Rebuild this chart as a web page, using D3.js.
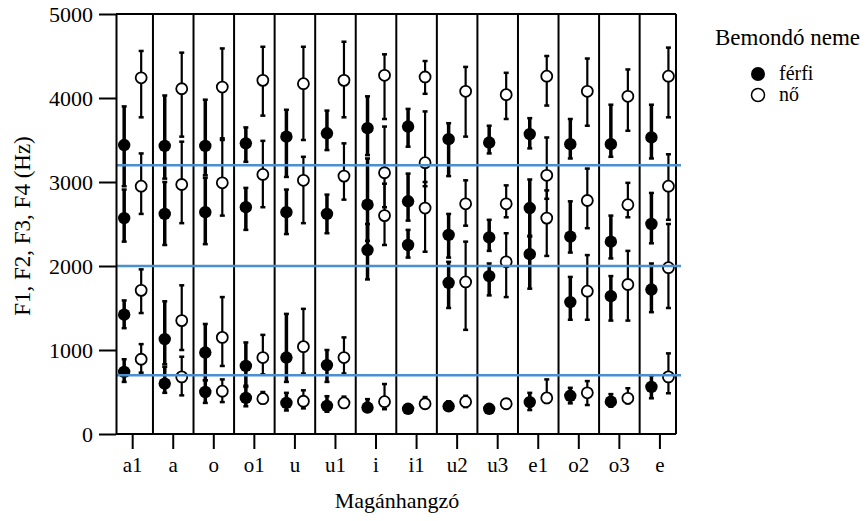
<!DOCTYPE html>
<html>
<head>
<meta charset="utf-8">
<script src="https://cdn.jsdelivr.net/npm/d3@7"></script>
<style>
  body { margin: 0; background: #fff; }
  text { font-family: "Liberation Serif", "Times New Roman", serif; fill: #000; }
</style>
</head>
<body>
<div id="chart"></div>
<script>
// vowels on the x axis
var vowels = ["a1", "a", "o", "o1", "u", "u1", "i", "i1", "u2", "u3", "e1", "o2", "o3", "e"];
var yTicks = [0, 1000, 2000, 3000, 4000, 5000];
var refLines = [700, 2000, 3200];

// each row: F1, F2, F3, F4 (Hz) for one vowel
var maleMean = [
  [740, 1420, 2570, 3440], [600, 1130, 2620, 3430], [500, 970, 2640, 3430], [430, 810, 2700, 3460],
  [370, 910, 2640, 3540], [335, 820, 2620, 3580], [315, 2190, 2730, 3640], [300, 2250, 2770, 3660],
  [330, 1800, 2370, 3510], [300, 1880, 2340, 3470], [380, 2140, 2690, 3570], [455, 1570, 2350, 3450],
  [385, 1640, 2290, 3450], [560, 1720, 2500, 3530]
];
var maleLow = [
  [620, 1260, 2290, 2950], [490, 830, 2250, 3040], [370, 640, 2260, 3080], [330, 575, 2430, 3240],
  [280, 620, 2380, 3060], [265, 620, 2390, 3380], [265, 1840, 2300, 3320], [280, 2100, 2540, 3420],
  [280, 1500, 2100, 3070], [280, 1650, 2180, 3340], [285, 1730, 2360, 3400], [365, 1360, 2160, 3280],
  [325, 1350, 2090, 3300], [425, 1450, 2270, 3280]
];
var maleHigh = [
  [890, 1590, 2910, 3900], [800, 1580, 3000, 4030], [640, 1310, 3050, 3980], [560, 1090, 2930, 3650],
  [490, 1430, 2910, 3860], [450, 1000, 2850, 3850], [415, 2500, 3280, 4020], [320, 2430, 3100, 3870],
  [390, 2050, 2620, 3700], [320, 2030, 2550, 3670], [490, 2350, 3030, 3760], [550, 1870, 2770, 3750],
  [475, 1880, 2600, 3920], [700, 2030, 2870, 3920]
];
var femaleMean = [
  [890, 1710, 2950, 4240], [680, 1350, 2970, 4110], [510, 1150, 2990, 4130], [420, 910, 3090, 4210],
  [390, 1040, 3020, 4170], [370, 910, 3070, 4210], [385, 2600, 3110, 4270], [360, 2690, 3230, 4250],
  [385, 1810, 2740, 4080], [360, 2050, 2740, 4040], [430, 2570, 3080, 4260], [490, 1700, 2780, 4080],
  [425, 1780, 2730, 4020], [680, 1980, 2950, 4260]
];
var femaleLow = [
  [730, 1440, 2620, 3770], [460, 1000, 2510, 3540], [380, 810, 2600, 3520], [370, 710, 2700, 3790],
  [305, 720, 2510, 3500], [320, 720, 2790, 3770], [295, 2250, 2700, 3750], [330, 2170, 2950, 4050],
  [320, 1240, 2480, 3540], [330, 1630, 2580, 3750], [370, 2120, 2800, 3910], [345, 1360, 2450, 3670],
  [365, 1350, 2580, 3610], [485, 1500, 2550, 3770]
];
var femaleHigh = [
  [1070, 1960, 3340, 4560], [920, 1770, 3480, 4540], [650, 1630, 3500, 4590], [500, 1180, 3490, 4610],
  [520, 1490, 3300, 4610], [445, 1150, 3460, 4670], [595, 2980, 3660, 4520], [440, 3000, 3840, 4440],
  [455, 2290, 3020, 4370], [390, 2390, 2960, 4300], [650, 2900, 3530, 4500], [630, 2130, 3160, 4470],
  [545, 2180, 2990, 4340], [960, 2500, 3330, 4600]
];

var w = 868, h = 521;
var plotL = 116, plotR = 676, plotT = 14, plotB = 434;

var svg = d3.select("#chart").append("svg")
  .attr("width", w).attr("height", h);

var x = d3.scaleBand().domain(vowels).range([112.4, 680.2]).padding(0);
var y = d3.scaleLinear().domain([0, 5000]).range([plotB, plotT]);
var off = 8.5;

// flatten into marks
var marks = [];
vowels.forEach(function(v, i) {
  for (var f = 0; f < 4; f++) {
    marks.push({ v: v, sex: "m", mean: maleMean[i][f], lo: maleLow[i][f], hi: maleHigh[i][f] });
    marks.push({ v: v, sex: "f", mean: femaleMean[i][f], lo: femaleLow[i][f], hi: femaleHigh[i][f] });
  }
});
function cx(d) { return x(d.v) + x.bandwidth() / 2 + (d.sex == "m" ? -off : off); }

// frame + dividers
svg.append("line").attr("x1", plotL).attr("x2", plotR).attr("y1", plotT).attr("y2", plotT)
  .attr("stroke", "#000").attr("stroke-width", 2);
svg.append("line").attr("x1", plotR).attr("x2", plotR).attr("y1", plotT).attr("y2", plotB)
  .attr("stroke", "#000").attr("stroke-width", 2);
svg.selectAll(".div").data(vowels.slice(1)).enter().append("line")
  .attr("x1", function(d) { return x(d); }).attr("x2", function(d) { return x(d); })
  .attr("y1", plotT).attr("y2", plotB)
  .attr("stroke", "#000").attr("stroke-width", 2);

// error bars
var g = svg.append("g");
g.selectAll(".bar").data(marks).enter().append("line")
  .attr("x1", cx).attr("x2", cx)
  .attr("y1", function(d) { return y(d.lo); })
  .attr("y2", function(d) { return y(d.hi); })
  .attr("stroke", "#000")
  .attr("stroke-width", function(d) { return d.sex == "m" ? 3.5 : 2.2; });
["lo", "hi"].forEach(function(k) {
  g.selectAll(".cap-" + k).data(marks).enter().append("line")
    .attr("x1", function(d) { return cx(d) - 2.5; })
    .attr("x2", function(d) { return cx(d) + 2.5; })
    .attr("y1", function(d) { return y(d[k]); })
    .attr("y2", function(d) { return y(d[k]); })
    .attr("stroke", "#000").attr("stroke-width", 2.5);
});

// points
g.selectAll(".pt").data(marks).enter().append("circle")
  .attr("cx", cx)
  .attr("cy", function(d) { return y(d.mean); })
  .attr("r", function(d) { return d.sex == "m" ? 6.2 : 5.5; })
  .attr("fill", function(d) { return d.sex == "m" ? "#000" : "#fff"; })
  .attr("stroke", "#000")
  .attr("stroke-width", function(d) { return d.sex == "m" ? 0 : 1.8; });

// blue reference lines
svg.selectAll(".ref").data(refLines).enter().append("line")
  .attr("x1", plotL).attr("x2", 681)
  .attr("y1", function(d) { return y(d); }).attr("y2", function(d) { return y(d); })
  .attr("stroke", "#4a8fd0").attr("stroke-width", 2.6);

// axes
var yAxis = svg.append("g").attr("transform", "translate(" + plotL + ",0)")
  .call(d3.axisLeft(y).tickValues(yTicks).tickFormat(d3.format("d"))
    .tickSize(17).tickPadding(6).tickSizeOuter(0));
yAxis.select(".domain").attr("stroke-width", 2);
yAxis.selectAll(".tick line").attr("stroke-width", 2);
yAxis.selectAll("text").style("font-size", "22px");

var xAxis = svg.append("g").attr("transform", "translate(0," + plotB + ")")
  .call(d3.axisBottom(x).tickSize(15).tickPadding(8).tickSizeOuter(0));
xAxis.select(".domain").attr("d", "M" + plotL + ",0H" + plotR).attr("stroke-width", 2);
xAxis.selectAll(".tick line").attr("stroke-width", 2);
xAxis.selectAll("text").style("font-size", "21px");

// titles
svg.append("text").attr("x", 397).attr("y", 508).attr("text-anchor", "middle")
  .style("font-size", "22px").text("Magánhangzó");
svg.append("text").attr("transform", "translate(30,226) rotate(-90)").attr("text-anchor", "middle")
  .style("font-size", "23px").text("F1, F2, F3, F4 (Hz)");

// legend
svg.append("text").attr("x", 715).attr("y", 45).style("font-size", "23px").text("Bemondó neme");
svg.append("circle").attr("cx", 758).attr("cy", 74).attr("r", 7).attr("fill", "#000");
svg.append("text").attr("x", 779).attr("y", 80).style("font-size", "20px").text("férfi");
svg.append("circle").attr("cx", 758).attr("cy", 95).attr("r", 6.5).attr("fill", "#fff")
  .attr("stroke", "#000").attr("stroke-width", 1.5);
svg.append("text").attr("x", 779).attr("y", 101).style("font-size", "20px").text("nő");
</script>
</body>
</html>
